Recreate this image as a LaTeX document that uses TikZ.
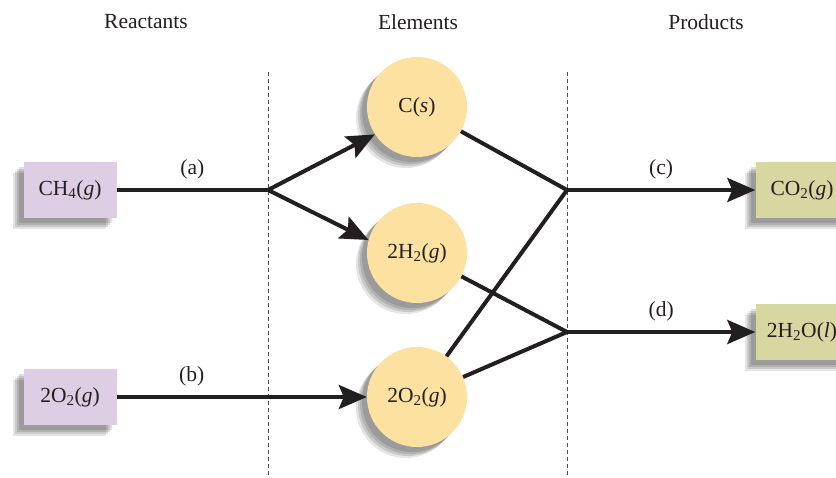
\documentclass[tikz,border=0pt]{standalone}
\usepackage{fontspec}
\setmainfont{Liberation Serif}
\usetikzlibrary{arrows.meta,shadows}
\definecolor{reactfill}{RGB}{221,206,228}
\definecolor{prodfill}{RGB}{215,215,162}
\definecolor{elemfill}{RGB}{253,225,160}
\definecolor{ink}{RGB}{35,31,32}
\tikzset{
  every node/.style={font=\fontsize{21.5}{25}\selectfont, text=ink},
  shade/.style={
    general shadow={shadow xshift=-5pt, shadow yshift=-5pt, fill=black, opacity=0.12},
    general shadow={shadow xshift=-7pt, shadow yshift=-7pt, fill=black, opacity=0.12},
    general shadow={shadow xshift=-9pt, shadow yshift=-9pt, fill=black, opacity=0.12},
    general shadow={shadow xshift=-11pt, shadow yshift=-11pt, fill=black, opacity=0.10}},
  species/.style={shade, minimum width=93pt, minimum height=56pt, inner sep=0pt},
  elem/.style={shade, circle, fill=elemfill, minimum size=100pt, inner sep=0pt},
  flow/.style={draw=ink, line width=4pt},
  flowto/.style={flow, -{Stealth[length=28pt,width=24pt,inset=5pt]}},
  divider/.style={draw=ink!80, line width=0.9pt, dash pattern=on 4pt off 3pt}
}
\begin{document}
\begin{tikzpicture}[x=1pt,y=-1pt]
  \useasboundingbox (0,0) rectangle (836,478);
  % column titles
  \node (reac) at (146,22) {Reactants};
  \node (elts) at (418,22) {Elements};
  \node (prod) at (706,22) {Products};
  \draw[divider] (268,72) -- (268,476);
  \draw[divider] (567,72) -- (567,476);
  % species
  \node[species, fill=reactfill] (ch4) at (70,190) {CH\textsubscript{4}(\textit{g})};
  \node[species, fill=reactfill] (o2in) at (70,397) {2O\textsubscript{2}(\textit{g})};
  \node[species, fill=prodfill] (co2) at (802,190) {CO\textsubscript{2}(\textit{g})};
  \node[species, fill=prodfill] (h2o) at (802,332) {2H\textsubscript{2}O(\textit{l})};
  \node[elem] (cs) at (417,107) {C(\textit{s})};
  \node[elem] (h2) at (417,253) {2H\textsubscript{2}(\textit{g})};
  \node[elem] (o2) at (417,397) {2O\textsubscript{2}(\textit{g})};
  % junctions
  \coordinate (ja) at (268,190);
  \coordinate (jc) at (567,190);
  \coordinate (jd) at (567,332);
  % connectors
  \draw[flow] (ch4) -- (ja) node[midway, above=6pt] {(a)};
  \draw[flowto] (ja) -- (cs.213);
  \draw[flowto] (ja) -- (h2.165);
  \draw[flowto] (o2in) -- (o2) node[midway, above=6pt, xshift=-50pt] {(b)};
  \draw[flow] (cs) -- (jc);
  \draw[flow] (o2) -- (jc);
  \draw[flow] (h2) -- (jd);
  \draw[flow] (o2) -- (jd);
  \draw[flowto] (jc) -- (co2) node[midway, above=6pt] {(c)};
  \draw[flowto] (jd) -- (h2o) node[midway, above=6pt] {(d)};
\end{tikzpicture}
\end{document}
